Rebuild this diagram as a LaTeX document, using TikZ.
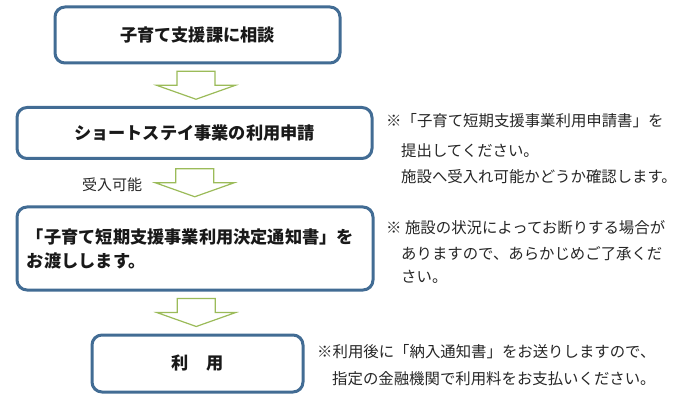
\documentclass[tikz,border=0pt]{standalone}
\usepackage{fontspec}
\setmainfont{Noto Sans CJK JP}
\usetikzlibrary{calc}
\definecolor{boxblue}{RGB}{66,108,148}
\definecolor{arrowgreen}{RGB}{155,187,89}
\tikzset{
  pics/downarrow/.style={code={
    \draw[arrowgreen, line width=1.2pt, fill=white, line join=miter]
      (-19,-14) -- (19,-14) -- (19,0) -- (39.5,0) -- (0,14) -- (-39.5,0) -- (-19,0) -- cycle;
  }},
  stepbox/.style={rounded corners=10pt, draw=boxblue, line width=3pt, fill=white,
    font=\fontsize{17.2}{24}\selectfont\bfseries, text=black!90},
  lab/.style={font=\fontsize{15}{20}\selectfont, text=black!85, inner sep=0pt, anchor=west},
  note/.style={font=\fontsize{15.4}{20}\selectfont, text=black!85, inner sep=0pt, anchor=west}
}
\begin{document}
\begin{tikzpicture}[x=1pt,y=-1pt]
\useasboundingbox (0,0) rectangle (690,403);

% ---------------- Steps ----------------
\node[stepbox, minimum width=285pt, minimum height=56pt] (b1) at (197.5,35) {子育て支援課に相談};
\node[stepbox, minimum width=355pt, minimum height=51pt] (b2) at (194.5,133) {ショートステイ事業の利用申請};
\node[stepbox, text width=336pt, inner xsep=10pt, align=left, minimum height=83pt] (b3) at (195,248.5)
  {「子育て短期支援事業利用決定通知書」を\\お渡しします。};
\node[stepbox, minimum width=211pt, minimum height=57pt] (b4) at (197.5,363.5) {利　用};

% ---------------- Arrows ----------------
\path ($(b1.south)!0.5!(b2.north)$) pic {downarrow};
\path ($(b2.south)!0.5!(b3.north)$) pic {downarrow};
\path ($(b3.south)!0.5!(b4.north)$) pic {downarrow};
\node[lab] (ok) at (82,185) {受入可能};

% ---------------- Notes ----------------
\node[note] (n1a) at (386,121) {※「子育て短期支援事業利用申請書」を};
\node[note] (n1b) at (401,151) {提出してください。};
\node[note] (n1c) at (401,177) {施設へ受入れ可能かどうか確認します。};

\node[note] (n2a) at (386,228) {※ 施設の状況によってお断りする場合が};
\node[note] (n2b) at (401,254) {ありますので、あらかじめご了承くだ};
\node[note] (n2c) at (401,277) {さい。};

\node[note] (n3a) at (317,352) {※利用後に「納入通知書」をお送りしますので、};
\node[note] (n3b) at (332,379) {指定の金融機関で利用料をお支払いください。};

\end{tikzpicture}
\end{document}
